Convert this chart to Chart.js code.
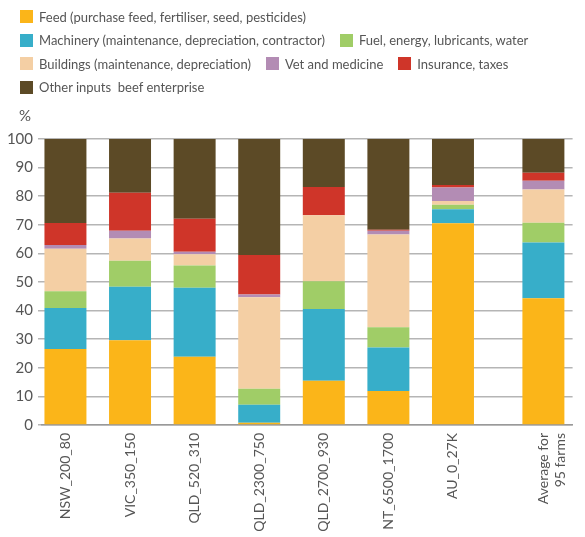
<!DOCTYPE html>
<html>
<head>
<meta charset="utf-8">
<script src="https://cdn.jsdelivr.net/npm/chart.js@4/dist/chart.umd.min.js"></script>
<style>
  html, body { margin: 0; padding: 0; background: #fff; }
  #wrap { position: relative; width: 585px; height: 537px; overflow: hidden; }
  #chart { position: absolute; left: 0; top: 0; }
  #legend {
    position: absolute; left: 20px; top: 5px; width: 565px;
    display: flex; flex-wrap: wrap;
    font-family: Lato, "Open Sans", sans-serif; font-size: 13px; color: #555;
  }
  .item { display: flex; align-items: center; height: 23.5px; margin-right: 15px; white-space: pre; }
  .swatch { width: 13px; height: 13px; margin-right: 6px; flex: none; }
</style>
</head>
<body>
<div id="wrap">
  <canvas id="chart" width="585" height="537"></canvas>
  <div id="legend"></div>
</div>
<script>
// Farm groups (last one is the overall average)
const categories = ['NSW_200_80', 'VIC_350_150', 'QLD_520_310', 'QLD_2300_750',
                    'QLD_2700_930', 'NT_6500_1700', 'AU_0_27K', ['Average for', '95 farms']];

// Share of total input costs, %
const feed       = [26.6, 29.6, 23.9,  0.8, 15.5, 11.9, 70.5, 44.3];
const machinery  = [14.3, 18.7, 24.1,  6.3, 25.1, 15.2,  4.9, 19.5];
const fuel       = [ 5.9,  9.1,  7.8,  5.6,  9.7,  7.1,  1.6,  6.9];
const buildings  = [14.8,  7.8,  3.9, 32.0, 23.0, 32.4,  1.3, 11.6];
const vet        = [ 1.3,  2.7,  0.9,  0.9,  0.0,  1.3,  4.7,  3.1];
const insurance  = [ 7.7, 13.3, 11.5, 13.8,  9.9,  0.4,  0.9,  2.8];
const other      = [29.4, 18.8, 27.9, 40.6, 16.8, 31.7, 16.1, 11.8];

const yTicks = [0, 10, 20, 30, 40, 50, 60, 70, 80, 90, 100];

// Slot positions on the x axis: the average bar sits a little apart from the farms
const slots = categories.map((c, i) => (i < 7 ? i : i + 0.4));

const seriesDefs = [
  ['Feed (purchase feed, fertiliser, seed, pesticides)', feed,      '#FBB519'],
  ['Machinery (maintenance, depreciation, contractor)',  machinery, '#37AEC9'],
  ['Fuel, energy, lubricants, water',                    fuel,      '#A0CD67'],
  ['Buildings (maintenance, depreciation)',              buildings, '#F4CFA4'],
  ['Vet and medicine',                                   vet,       '#B38CB4'],
  ['Insurance, taxes',                                   insurance, '#CF3529'],
  ['Other inputs  beef enterprise',                      other,     '#5C4A26']
];

const datasets = seriesDefs.map(([label, values, color]) => ({
  label,
  data: values.map((v, i) => ({ x: slots[i], y: v })),
  backgroundColor: color,
  borderWidth: 0,
  barPercentage: 0.65,
  categoryPercentage: 1.0
}));

const percentSign = {
  id: 'percentSign',
  afterDraw(chart) {
    const { ctx, chartArea, scales } = chart;
    ctx.save();
    ctx.font = '15px Lato, sans-serif';
    ctx.fillStyle = '#555';
    ctx.textAlign = 'center';
    ctx.textBaseline = 'middle';
    ctx.fillText('%', chartArea.left - 17, scales.y.getPixelForValue(100) - 23);
    ctx.restore();
  }
};

const chart = new Chart(document.getElementById('chart'), {
  type: 'bar',
  data: { datasets },
  plugins: [percentSign],
  options: {
    responsive: false,
    animation: false,
    devicePixelRatio: 1,
    layout: { autoPadding: false, padding: { top: 139, left: 0, right: 0, bottom: 0 } },
    plugins: { legend: { display: false }, tooltip: { enabled: false } },
    scales: {
      x: {
        type: 'linear',
        stacked: true,
        offset: false,
        min: -0.363,
        max: 7.852,
        afterBuildTicks: s => { s.ticks = slots.map(v => ({ value: v })); },
        afterFit: s => { s.height = 112; },
        grid: { display: false, drawTicks: false, offset: false },
        border: { display: true, color: '#999', width: 1.5 },
        ticks: {
          autoSkip: false,
          minRotation: 90,
          maxRotation: 90,
          padding: 8,
          color: '#555',
          font: { family: 'Lato, sans-serif', size: 14 },
          callback: (value, index) => categories[index]
        }
      },
      y: {
        stacked: true,
        min: 0,
        max: 100,
        afterBuildTicks: s => { s.ticks = yTicks.map(v => ({ value: v })); },
        afterFit: s => { s.width = 42; },
        border: { display: false },
        grid: { color: '#b5b5b5', lineWidth: 1.5, tickLength: 4 },
        ticks: {
          padding: 5,
          color: '#555',
          font: { family: 'Lato, sans-serif', size: 15 }
        }
      }
    }
  }
});

// Legend built from the chart's own datasets
const legendEl = document.getElementById('legend');
chart.data.datasets.forEach(ds => {
  const item = document.createElement('div');
  item.className = 'item';
  const sw = document.createElement('span');
  sw.className = 'swatch';
  sw.style.background = ds.backgroundColor;
  const txt = document.createElement('span');
  txt.textContent = ds.label;
  item.appendChild(sw);
  item.appendChild(txt);
  legendEl.appendChild(item);
});
</script>
</body>
</html>
